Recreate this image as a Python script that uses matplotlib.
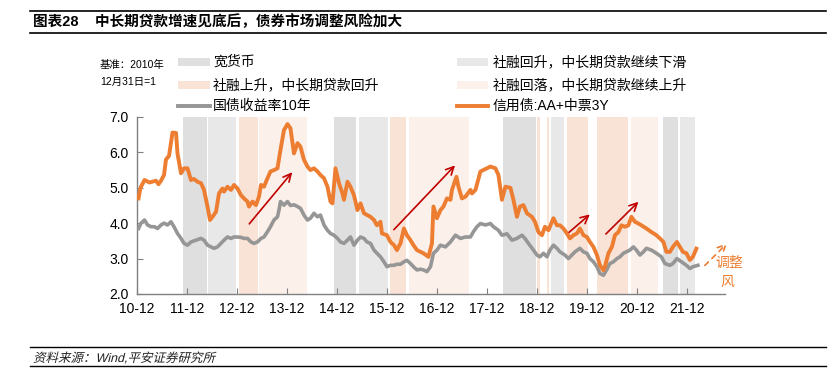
import matplotlib
matplotlib.use("Agg")
import matplotlib.pyplot as plt
from matplotlib.patches import Rectangle, PathPatch
from matplotlib.lines import Line2D
from matplotlib.textpath import TextPath
from matplotlib.font_manager import FontProperties
from matplotlib.transforms import Affine2D

plt.rcParams["font.family"] = ["Liberation Sans", "Noto Sans CJK SC", "DejaVu Sans"]

# 时间用小数年表示，2011.0 即 2010-12-31 基准日
credit_x = [2011.03, 2011.07, 2011.15, 2011.25, 2011.38, 2011.43, 2011.48, 2011.54, 2011.58, 2011.64,
            2011.71, 2011.78, 2011.81, 2011.88, 2011.94, 2012.01, 2012.08, 2012.14, 2012.21, 2012.28,
            2012.34, 2012.41, 2012.46, 2012.51, 2012.58, 2012.64, 2012.71, 2012.74, 2012.81, 2012.88,
            2012.94, 2013.01, 2013.08, 2013.14, 2013.21, 2013.24, 2013.31, 2013.38, 2013.44, 2013.48,
            2013.54, 2013.61, 2013.67, 2013.74, 2013.81, 2013.87, 2013.94, 2014.01, 2014.07, 2014.14,
            2014.21, 2014.27, 2014.34, 2014.41, 2014.47, 2014.54, 2014.61, 2014.67, 2014.74, 2014.81,
            2014.87, 2014.91, 2014.97, 2015.04, 2015.11, 2015.14, 2015.21, 2015.27, 2015.34, 2015.41,
            2015.47, 2015.54, 2015.67, 2015.74, 2015.80, 2015.87, 2015.90, 2016.00, 2016.07, 2016.14,
            2016.20, 2016.27, 2016.34, 2016.40, 2016.47, 2016.53, 2016.60, 2016.67, 2016.73, 2016.83,
            2016.90, 2016.93, 2017.00, 2017.07, 2017.13, 2017.20, 2017.27, 2017.30, 2017.39, 2017.43,
            2017.50, 2017.57, 2017.67, 2017.70, 2017.77, 2017.87, 2018.07, 2018.17, 2018.23, 2018.30,
            2018.37, 2018.47, 2018.53, 2018.60, 2018.66, 2018.73, 2018.80, 2018.90, 2018.96, 2019.03,
            2019.10, 2019.16, 2019.23, 2019.33, 2019.40, 2019.46, 2019.53, 2019.60, 2019.66, 2019.73,
            2019.80, 2019.86, 2019.93, 2020.00, 2020.06, 2020.13, 2020.20, 2020.26, 2020.33, 2020.36,
            2020.43, 2020.50, 2020.56, 2020.63, 2020.69, 2020.76, 2020.83, 2020.89, 2020.96, 2021.03,
            2021.09, 2021.19, 2021.29, 2021.39, 2021.46, 2021.53, 2021.59, 2021.66, 2021.72, 2021.80,
            2021.86, 2021.92, 2021.99, 2022.06, 2022.12, 2022.19]
credit_y = [4.70, 5.00, 5.22, 5.15, 5.20, 5.10, 5.20, 5.36, 5.80, 5.90,
            6.56, 6.55, 5.97, 5.41, 5.55, 5.55, 5.22, 5.25, 5.17, 5.13,
            4.94, 4.47, 4.09, 4.18, 4.32, 4.84, 4.98, 4.89, 5.03, 4.94,
            5.08, 4.98, 4.79, 4.70, 4.61, 4.47, 4.61, 4.51, 4.75, 5.08,
            5.03, 5.27, 5.46, 5.50, 5.55, 6.07, 6.63, 6.80, 6.68, 5.97,
            6.26, 6.16, 5.79, 5.60, 5.50, 5.55, 5.46, 5.36, 5.27, 5.03,
            4.61, 4.56, 5.55, 5.13, 4.84, 4.66, 5.17, 5.03, 4.79, 4.37,
            4.56, 4.28, 4.18, 4.09, 3.94, 4.04, 3.71, 3.66, 3.47, 3.38,
            3.24, 3.43, 3.85, 3.66, 3.52, 3.38, 3.24, 3.19, 3.15, 3.05,
            3.43, 4.47, 4.14, 4.37, 4.47, 4.70, 4.66, 4.94, 5.31, 5.03,
            4.70, 4.75, 4.94, 4.84, 4.94, 5.46, 5.60, 5.55, 5.36, 4.66,
            5.03, 5.00, 4.66, 4.18, 4.47, 4.51, 4.28, 4.18, 4.04, 3.75,
            3.66, 3.90, 3.80, 4.14, 3.94, 3.94, 3.85, 3.71, 3.57, 3.66,
            3.71, 3.85, 3.66, 3.61, 3.47, 3.33, 3.10, 2.81, 2.67, 2.77,
            3.15, 3.33, 3.66, 3.75, 3.94, 3.90, 3.94, 4.18, 4.04, 3.99,
            3.94, 3.85, 3.75, 3.66, 3.57, 3.47, 3.19, 3.19, 3.33, 3.47,
            3.33, 3.19, 3.15, 2.96, 3.05, 3.28]

gov_x = [2011.03, 2011.08, 2011.15, 2011.21, 2011.28, 2011.35, 2011.41, 2011.48, 2011.54, 2011.61,
         2011.68, 2011.74, 2011.81, 2011.88, 2011.94, 2012.01, 2012.08, 2012.18, 2012.28, 2012.34,
         2012.41, 2012.48, 2012.54, 2012.61, 2012.68, 2012.74, 2012.81, 2012.88, 2012.94, 2013.01,
         2013.08, 2013.14, 2013.21, 2013.28, 2013.34, 2013.41, 2013.48, 2013.54, 2013.61, 2013.67,
         2013.74, 2013.81, 2013.84, 2013.87, 2013.94, 2014.01, 2014.07, 2014.14, 2014.21, 2014.27,
         2014.34, 2014.41, 2014.47, 2014.54, 2014.61, 2014.67, 2014.74, 2014.81, 2014.87, 2014.94,
         2015.01, 2015.07, 2015.14, 2015.21, 2015.27, 2015.34, 2015.41, 2015.47, 2015.54, 2015.60,
         2015.67, 2015.74, 2015.80, 2015.87, 2015.94, 2016.00, 2016.07, 2016.14, 2016.20, 2016.27,
         2016.34, 2016.40, 2016.47, 2016.53, 2016.60, 2016.67, 2016.73, 2016.80, 2016.87, 2016.93,
         2017.00, 2017.07, 2017.17, 2017.27, 2017.37, 2017.47, 2017.57, 2017.67, 2017.73, 2017.80,
         2017.87, 2017.97, 2018.07, 2018.13, 2018.23, 2018.30, 2018.40, 2018.50, 2018.60, 2018.70,
         2018.76, 2018.83, 2018.93, 2019.00, 2019.06, 2019.13, 2019.20, 2019.26, 2019.33, 2019.40,
         2019.46, 2019.56, 2019.63, 2019.70, 2019.76, 2019.86, 2019.93, 2020.00, 2020.06, 2020.13,
         2020.20, 2020.26, 2020.33, 2020.39, 2020.46, 2020.53, 2020.60, 2020.66, 2020.73, 2020.79,
         2020.86, 2020.93, 2020.99, 2021.06, 2021.13, 2021.19, 2021.29, 2021.39, 2021.49, 2021.56,
         2021.66, 2021.72, 2021.80, 2021.89, 2021.99, 2022.06, 2022.12, 2022.22]
gov_y = [3.85, 4.00, 4.09, 3.95, 3.90, 3.90, 3.85, 3.95, 4.00, 3.95,
         4.04, 3.90, 3.71, 3.57, 3.43, 3.38, 3.47, 3.52, 3.57, 3.52,
         3.38, 3.33, 3.29, 3.33, 3.43, 3.52, 3.61, 3.57, 3.61, 3.61,
         3.60, 3.57, 3.57, 3.47, 3.43, 3.47, 3.57, 3.61, 3.76, 3.90,
         4.09, 4.18, 4.37, 4.61, 4.51, 4.61, 4.50, 4.52, 4.47, 4.42,
         4.23, 4.09, 4.14, 4.28, 4.18, 4.23, 3.95, 3.80, 3.71, 3.66,
         3.57, 3.47, 3.43, 3.52, 3.61, 3.38, 3.52, 3.61, 3.57, 3.47,
         3.43, 3.24, 3.15, 3.05, 2.91, 2.77, 2.81, 2.81, 2.84, 2.84,
         2.91, 2.95, 2.86, 2.77, 2.68, 2.70, 2.68, 2.63, 2.77, 3.15,
         3.24, 3.38, 3.33, 3.47, 3.66, 3.57, 3.61, 3.61, 3.76, 3.90,
         3.99, 3.95, 3.99, 3.90, 3.80, 3.66, 3.70, 3.52, 3.57, 3.66,
         3.57, 3.43, 3.24, 3.10, 3.05, 3.15, 3.05, 3.24, 3.38, 3.29,
         3.19, 3.10, 3.00, 3.10, 3.19, 3.29, 3.19, 3.15, 3.00, 2.91,
         2.77, 2.58, 2.53, 2.67, 2.86, 2.91, 3.00, 3.05, 3.15, 3.19,
         3.24, 3.33, 3.24, 3.10, 3.19, 3.29, 3.24, 3.15, 3.05, 2.86,
         2.81, 2.86, 3.00, 2.91, 2.81, 2.72, 2.77, 2.81]

# 阶段划分（起止，小数年）
loose_money = [(2011.91, 2012.41), (2014.94, 2015.40), (2018.31, 2019.00), (2021.51, 2021.84)]
tsf_up_loan_down = [(2012.42, 2013.00), (2015.44, 2016.04), (2019.28, 2019.56), (2021.86, 2022.17)]
tsf_up_loan_up = [(2013.03, 2013.43), (2016.05, 2016.39), (2019.00, 2019.08), (2019.20, 2019.25),
                  (2019.59, 2020.04), (2020.19, 2020.84)]
tsf_down_loan_up = [(2013.43, 2014.42), (2016.44, 2017.65), (2020.87, 2021.43)]

tick_pos = list(range(2011, 2023))
tick_labels = ["10-12", "11-12", "12-12", "13-12", "14-12", "15-12", "16-12",
               "17-12", "18-12", "19-12", "20-12", "21-12"]

# 红色箭头：(起点x, 起点y, 终点x, 终点y)
up_arrows = [(2013.21, 3.92, 2014.14, 5.50), (2016.10, 3.76, 2017.40, 5.69),
             (2019.60, 3.69, 2020.10, 4.30), (2020.34, 3.64, 2021.07, 4.66)]

ORANGE = "#ED7D31"
GREY = "#969696"
C_LOOSE = "#DFDFDF"
C_UP_DOWN = "#E8E8E8"
C_UP_UP = "#F9E3D6"
C_DOWN_UP = "#FBF0EA"

fig = plt.figure(figsize=(8.39, 3.77), dpi=100)
ax = fig.add_axes([0.1633, 0.2202, 0.7007, 0.4695])

for spans, col in [(loose_money, C_LOOSE), (tsf_up_loan_down, C_UP_DOWN),
                   (tsf_up_loan_up, C_UP_UP), (tsf_down_loan_up, C_DOWN_UP)]:
    for a, b in spans:
        ax.axvspan(a + 0.01, b - 0.01, ymin=0, ymax=1, color=col, lw=0, zorder=0)

ax.plot(gov_x, gov_y, color=GREY, lw=2.6, zorder=3)
ax.plot(credit_x, credit_y, color=ORANGE, lw=2.8, zorder=4)

for x0, y0, x1, y1 in up_arrows:
    ax.annotate("", xy=(x1, y1), xytext=(x0, y0),
                arrowprops=dict(arrowstyle="->", color="#C00000", lw=1.2,
                                mutation_scale=14), zorder=5)

# 虚线箭头 + 调整风险
ax.annotate("", xy=(2022.84, 3.48), xytext=(2022.32, 2.75),
            arrowprops=dict(arrowstyle="->", color=ORANGE, lw=1.2, ls=(0, (3, 3)),
                            mutation_scale=14), annotation_clip=False, zorder=5)
ax.text(2022.57, 2.88, "调整", color=ORANGE, fontsize=10, va="center", ha="left",
        clip_on=False)
ax.text(2022.67, 2.33, "风", color=ORANGE, fontsize=10, va="center", ha="left",
        clip_on=False)

ax.set_xlim(2011.0, 2022.76)
ax.set_ylim(2.0, 7.0)
ax.set_xticks(tick_pos)
ax.set_xticklabels(tick_labels, fontsize=10)
ax.set_yticks([2, 3, 4, 5, 6, 7])
ax.set_yticklabels(["2.0", "3.0", "4.0", "5.0", "6.0", "7.0"], fontsize=10)
ax.tick_params(direction="in", length=4, color="#808080", pad=6)
for s in ["top", "right"]:
    ax.spines[s].set_visible(False)
for s in ["left", "bottom"]:
    ax.spines[s].set_color("#808080")
    ax.spines[s].set_linewidth(1.0)

W, H = 839.0, 377.0


def fx(px):
    return px / W


def fy(py):
    return 1 - py / H


# 标题与上下横线
fig.add_artist(Line2D([fx(30), fx(826)], [fy(11), fy(11)], color="black", lw=1.2))
fig.add_artist(Line2D([fx(30), fx(826)], [fy(33), fy(33)], color="black", lw=1.2))
fig.text(fx(33), fy(22), "图表28    中长期贷款增速见底后，债券市场调整风险加大",
         fontsize=10.5, fontweight="bold", va="center", ha="left")

# 图例（手工布局）
legend_rows = [62, 85, 106]
left_items = [("patch", C_LOOSE, "宽货币"), ("patch", C_UP_UP, "社融上升，中长期贷款回升"),
              ("line", GREY, "国债收益率10年")]
right_items = [("patch", C_UP_DOWN, "社融回升，中长期贷款继续下滑"),
               ("patch", C_DOWN_UP, "社融回落，中长期贷款继续上升"),
               ("line", ORANGE, "信用债:AA+中票3Y")]
for (x0, x1, xt), items in [((178, 210, 213), left_items), ((457, 488, 493), right_items)]:
    for row, (kind, col, label) in zip(legend_rows, items):
        if kind == "patch":
            fig.add_artist(Rectangle((fx(x0), fy(row + 4)), fx(x1) - fx(x0), fy(row - 4) - fy(row + 4),
                                     color=col, lw=0))
        else:
            fig.add_artist(Line2D([fx(x0), fx(x1)], [fy(row), fy(row)], color=col, lw=2.8))
        fig.text(fx(xt), fy(row), label, fontsize=10, va="center", ha="left")

fig.text(fx(100), fy(65), "基准：2010年", fontsize=7.5, va="center", ha="left")
fig.text(fx(100), fy(82), "12月31日=1", fontsize=7.5, va="center", ha="left")

# 资料来源：CJK 字体没有斜体，用斜切的文字路径模拟（像素坐标）
fig.add_artist(Line2D([fx(30), fx(826)], [fy(347), fy(347)], color="black", lw=1.0))
fig.add_artist(Line2D([fx(30), fx(826)], [fy(366), fy(366)], color="black", lw=1.0))
src = "资料来源：Wind,平安证券研究所"
tp = TextPath((0, 0), src, size=12.5,
              prop=FontProperties(family=["Liberation Sans", "Noto Sans CJK SC"]))
patch = PathPatch(tp, color="#222222", lw=0)
patch.set_transform(Affine2D().skew_deg(14, 0).translate(33, H - 362))
fig.add_artist(patch)

fig.savefig("out.png", dpi=100)
